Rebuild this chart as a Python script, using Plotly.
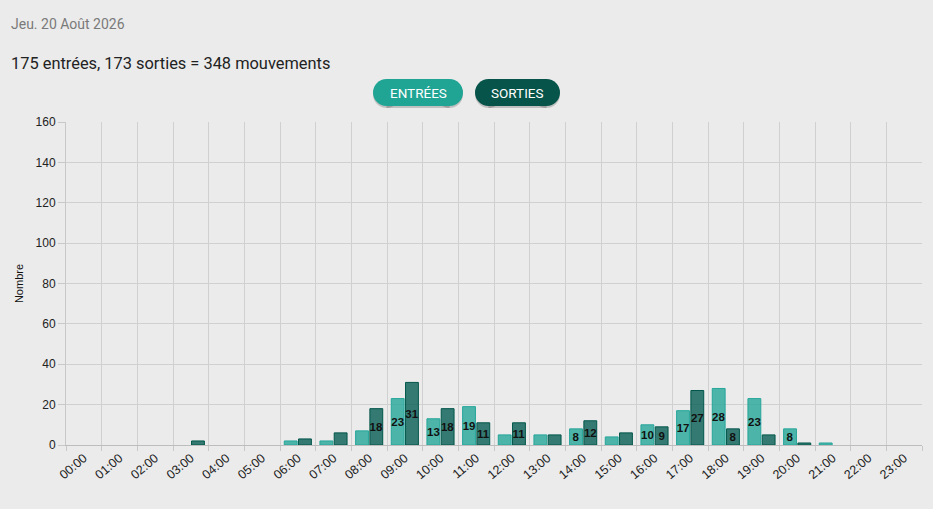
import plotly.graph_objects as go

heures = ["%02d:00" % h for h in range(24)]
entrees = [0, 0, 0, 0, 0, 0, 2, 2, 7, 23, 13, 19, 5, 5, 8, 4, 10, 17, 28, 23, 8, 1, 0, 0]
sorties = [0, 0, 0, 2, 0, 0, 3, 6, 18, 31, 18, 11, 11, 5, 12, 6, 9, 27, 8, 5, 1, 0, 0, 0]
date_txt = "Jeu. 20 Août 2026"
resume_txt = "%d entrées, %d sorties = %d mouvements" % (sum(entrees), sum(sorties), sum(entrees) + sum(sorties))

W, H = 933, 509
ML, MR, MT, MB = 66, 11, 122, 64
PW, PH = W - ML - MR, H - MT - MB


def px(x):
    return (x - ML) / PW


def py(y):
    return (H - MB - y) / PH


def etiquettes(vals):
    return [str(v) if v >= 8 else "" for v in vals]


def bordures(vals):
    # pas de trait pour les barres vides
    return [1 if v > 0 else 0 for v in vals]


fig = go.Figure()
fig.add_bar(x=heures, y=entrees, name="Entrées", text=etiquettes(entrees),
            marker=dict(color="rgba(38,166,154,0.8)",
                        line=dict(color="#26a69a", width=bordures(entrees))))
fig.add_bar(x=heures, y=sorties, name="Sorties", text=etiquettes(sorties),
            marker=dict(color="rgba(0,90,80,0.78)",
                        line=dict(color="#00564b", width=bordures(sorties))))
fig.update_traces(textposition="inside", insidetextanchor="middle", textangle=0,
                  constraintext="none", cliponaxis=False,
                  textfont=dict(family="Liberation Sans", size=11.5, color="#111", weight="bold"),
                  hoverinfo="x+y")


def pilule(x0, x1, y0, y1, color, opacity=1.0):
    r = (y1 - y0) / 2
    common = dict(xref="paper", yref="paper", fillcolor=color, opacity=opacity,
                  line=dict(width=0), layer="above")
    return [
        dict(type="rect", x0=px(x0 + r), x1=px(x1 - r), y0=py(y1), y1=py(y0), **common),
        dict(type="circle", x0=px(x0), x1=px(x0 + 2 * r), y0=py(y1), y1=py(y0), **common),
        dict(type="circle", x0=px(x1 - 2 * r), x1=px(x1), y0=py(y1), y1=py(y0), **common),
    ]


shapes = []
shapes += pilule(373, 463, 81, 108, "#000000", 0.18)
shapes += pilule(475, 560, 81, 108, "#000000", 0.18)
shapes += pilule(373, 463, 79, 106, "#20a595")
shapes += pilule(475, 560, 79, 106, "#07544a")

annots = [
    dict(text=date_txt, x=px(9), y=py(24), xanchor="left", yanchor="middle",
         font=dict(family="Roboto", size=14, color="#7a7a7a")),
    dict(text=resume_txt, x=px(9), y=py(64), xanchor="left", yanchor="middle",
         font=dict(family="Roboto", size=16.4, color="#222")),
    dict(text="ENTRÉES", x=px(418), y=py(92.5), xanchor="center", yanchor="middle",
         font=dict(family="Roboto", size=13.5, color="white")),
    dict(text="SORTIES", x=px(517.5), y=py(92.5), xanchor="center", yanchor="middle",
         font=dict(family="Roboto", size=13.5, color="white")),
]
for a in annots:
    a.update(xref="paper", yref="paper", showarrow=False)

fig.update_layout(
    width=W, height=H,
    margin=dict(l=ML, r=MR, t=MT, b=MB),
    paper_bgcolor="#ebebeb", plot_bgcolor="#ebebeb",
    barmode="group", bargap=0.2, bargroupgap=0.1,
    showlegend=False,
    shapes=shapes, annotations=annots,
    font=dict(family="Liberation Sans", size=12, color="#333"),
)
fig.update_xaxes(type="category", tickson="boundaries", tickangle=-40,
                 showgrid=True, gridcolor="#d0d0d0", gridwidth=1,
                 ticks="outside", ticklen=5, tickcolor="#c8c8c8",
                 showline=True, linecolor="#bdbdbd", linewidth=1,
                 tickfont=dict(size=12.5, color="#222"))
fig.update_yaxes(range=[0, 160], dtick=20, showgrid=True, gridcolor="#d0d0d0",
                 ticks="outside", ticklen=7, tickcolor="#c8c8c8",
                 showline=True, linecolor="#c8c8c8", zeroline=False,
                 title=dict(text="Nombre", font=dict(size=11, color="#111"), standoff=9),
                 tickfont=dict(size=12, color="#222"))

fig.write_html("out.html", config={"displayModeBar": False},
               post_script="document.body.style.margin='0';")
